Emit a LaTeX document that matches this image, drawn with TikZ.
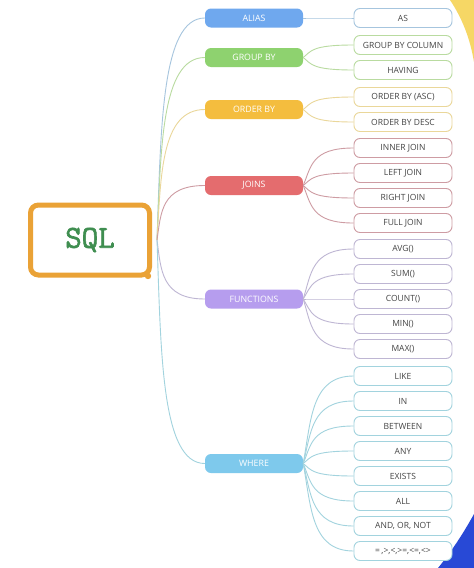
\documentclass[tikz,border=0pt]{standalone}
\usepackage{fontspec}
\setmainfont{Open Sans}
\newfontfamily\sqlfont[FakeBold=2]{Latin Modern Mono}
\usetikzlibrary{calc}

\definecolor{rootorange}{HTML}{EAA236}
\definecolor{rootgreen}{HTML}{3F8E50}
\definecolor{aliasfill}{HTML}{6FA8EE}
\definecolor{groupfill}{HTML}{8ED26F}
\definecolor{orderfill}{HTML}{F4BD3E}
\definecolor{joinfill}{HTML}{E46C6E}
\definecolor{funcfill}{HTML}{B69DEE}
\definecolor{wherefill}{HTML}{7EC9EC}
\definecolor{aliasline}{HTML}{A6C5DE}
\definecolor{groupline}{HTML}{B9DBA0}
\definecolor{orderline}{HTML}{EAD79A}
\definecolor{joinline}{HTML}{CE9CA3}
\definecolor{funcline}{HTML}{BEB6D3}
\definecolor{whereline}{HTML}{A2D3DE}
\definecolor{leaftext}{HTML}{454545}
\definecolor{cornerblue}{HTML}{2849D6}
\definecolor{corneryellow}{HTML}{F6D765}

\begin{document}
\begin{tikzpicture}[x=1pt,y=1pt,node distance=25pt,
  cat/.style={fill=#1, rounded corners=6pt, minimum width=98pt, minimum height=19pt,
    inner sep=0pt, text=white, font=\fontsize{8.8}{10}\selectfont},
  leaf/.style={draw=#1, line width=0.9pt, fill=white, rounded corners=6pt,
    minimum width=98pt, minimum height=19pt, inner sep=0pt, text=leaftext,
    font=\fontsize{8.5}{10}\selectfont},
  branch/.style={line width=0.9pt, to path={.. controls
    ($(\tikztostart)!.5!(\tikztostart |- \tikztotarget)+(#1,0)$) and
    ($(\tikztostart |- \tikztotarget)+(#1,0)$) .. (\tikztotarget) \tikztonodes}},
  branch/.default=8pt]

\useasboundingbox[fill=white] (0,0) rectangle (474,-568);

% corners of the backdrop
\fill[corneryellow] (450,0) .. controls (462,-18) and (470,-38) .. (474,-62) -- (474,0) -- cycle;
\fill[cornerblue] (474,-514) .. controls (463,-534) and (451,-552) .. (438,-568) -- (474,-568) -- cycle;

% root
\node[draw=rootorange, line width=5pt, rounded corners=8pt, minimum width=119pt,
  minimum height=70pt, text=rootgreen, font=\sqlfont\fontsize{32}{32}\selectfont]
  (sql) at (90,-240) {SQL};
\fill[rootorange] (148,-276) circle (3.2pt);
\coordinate (hub) at ([xshift=5pt]sql.east);

% leaves
\node[leaf=aliasline] (as) at (403,-18) {AS};
\node[leaf=groupline, node distance=27pt, below of=as] (gbc) {GROUP BY COLUMN};
\node[leaf=groupline, below of=gbc] (having) {HAVING};
\node[leaf=orderline, node distance=27pt, below of=having] (asc) {ORDER BY (ASC)};
\node[leaf=orderline, below of=asc] (desc) {ORDER BY DESC};
\node[leaf=joinline, node distance=26pt, below of=desc] (inner) {INNER JOIN};
\node[leaf=joinline, below of=inner] (left) {LEFT JOIN};
\node[leaf=joinline, below of=left] (right) {RIGHT JOIN};
\node[leaf=joinline, below of=right] (full) {FULL JOIN};
\node[leaf=funcline, node distance=26pt, below of=full] (avg) {AVG()};
\node[leaf=funcline, below of=avg] (sum) {SUM()};
\node[leaf=funcline, below of=sum] (count) {COUNT()};
\node[leaf=funcline, below of=count] (min) {MIN()};
\node[leaf=funcline, below of=min] (max) {MAX()};
\node[leaf=whereline, node distance=27pt, below of=max] (like) {LIKE};
\node[leaf=whereline, below of=like] (in) {IN};
\node[leaf=whereline, below of=in] (between) {BETWEEN};
\node[leaf=whereline, below of=between] (any) {ANY};
\node[leaf=whereline, below of=any] (exists) {EXISTS};
\node[leaf=whereline, below of=exists] (all) {ALL};
\node[leaf=whereline, below of=all] (andornot) {AND, OR, NOT};
\node[leaf=whereline, below of=andornot] (compare) {=\,,>,<,>=,<=,<>};

% categories
\node[cat=aliasfill, node distance=149pt, left of=as] (alias) {ALIAS};
\node[cat=groupfill] (groupby) at ($(gbc)!.5!(having)-(149pt,0)$) {GROUP BY};
\node[cat=orderfill] (orderby) at ($(asc)!.5!(desc)-(149pt,0)$) {ORDER BY};
\node[cat=joinfill] (joins) at ($(inner)!.5!(full)-(149pt,0)$) {JOINS};
\node[cat=funcfill, node distance=149pt, left of=count] (functions) {FUNCTIONS};
\node[cat=wherefill] (where) at ($(like)!.5!(compare)-(149pt,0)$) {WHERE};

% root to categories
\draw[aliasline, branch=4pt] (hub) to (alias.west);
\draw[groupline, branch=4pt] (hub) to (groupby.west);
\draw[orderline, branch=4pt] (hub) to (orderby.west);
\draw[joinline, branch=4pt] (hub) to (joins.west);
\draw[funcline, branch=4pt] (hub) to (functions.west);
\draw[whereline, branch=4pt] (hub) to (where.west);

% categories to leaves
\draw[aliasline, branch] (alias.east) to (as.west);
\draw[groupline, branch] (groupby.east) to (gbc.west);
\draw[groupline, branch] (groupby.east) to (having.west);
\draw[orderline, branch] (orderby.east) to (asc.west);
\draw[orderline, branch] (orderby.east) to (desc.west);
\draw[joinline, branch] (joins.east) to (inner.west);
\draw[joinline, branch] (joins.east) to (left.west);
\draw[joinline, branch] (joins.east) to (right.west);
\draw[joinline, branch] (joins.east) to (full.west);
\draw[funcline, branch] (functions.east) to (avg.west);
\draw[funcline, branch] (functions.east) to (sum.west);
\draw[funcline, branch] (functions.east) to (count.west);
\draw[funcline, branch] (functions.east) to (min.west);
\draw[funcline, branch] (functions.east) to (max.west);
\draw[whereline, branch] (where.east) to (like.west);
\draw[whereline, branch] (where.east) to (in.west);
\draw[whereline, branch] (where.east) to (between.west);
\draw[whereline, branch] (where.east) to (any.west);
\draw[whereline, branch] (where.east) to (exists.west);
\draw[whereline, branch] (where.east) to (all.west);
\draw[whereline, branch] (where.east) to (andornot.west);
\draw[whereline, branch] (where.east) to (compare.west);
\end{tikzpicture}
\end{document}
